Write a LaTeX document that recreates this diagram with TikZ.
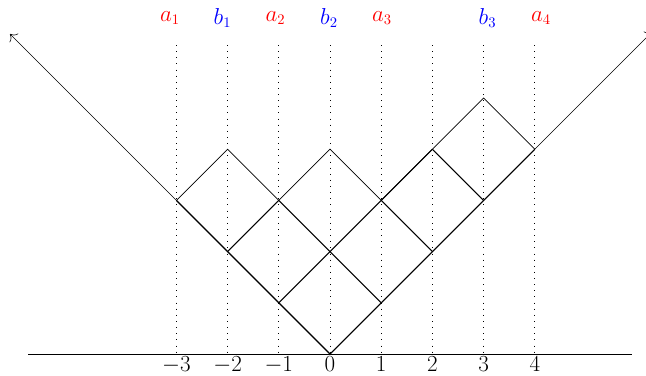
\documentclass[tikz,border=0pt]{standalone}
\usepackage{tikz}
\usetikzlibrary{arrows.meta}

\begin{document}
\begin{tikzpicture}[x=0.75pt,y=0.75pt,yscale=-1,xscale=1]
\useasboundingbox (0,0) rectangle (646,375);
%Straight Lines [axis]
\draw [line width=0.6]  (28,354) -- (632,354) ;
%Straight Lines [dotted guides]
\foreach \xx in {176.4,227.6,278.8,330,381.2,432.4,483.6,534.8}
  \draw [dash pattern={on 0.6pt off 4pt}, line width=0.6]  (\xx,45) -- (\xx,354) ;
%Straight Lines [arms]
\draw [-{To[scale=1.7]}, line width=0.45]  (330,354) -- (10,34) ;
\draw [-{To[scale=1.7]}, line width=0.45]  (330,354) -- (652,32) ;
%Straight Lines [cells, up-right]
\draw [line width=0.8]  (330,354) -- (534.8,149.2) ;
\draw [line width=0.8]  (278.8,302.8) -- (432.4,149.2) ;
\draw [line width=0.8]  (227.6,251.6) -- (278.8,200.4) ;
%Straight Lines [cells, up-left]
\draw [line width=0.8]  (330,354) -- (176.4,200.4) ;
\draw [line width=0.8]  (381.2,302.8) -- (278.8,200.4) ;
\draw [line width=0.8]  (432.4,251.6) -- (381.2,200.4) ;
\draw [line width=0.8]  (483.6,200.4) -- (432.4,149.2) ;
%Shape: Polygon [profile]
\draw [line width=0.5]  (176.4,200.4) -- (227.6,149.2) -- (278.8,200.4) -- (330,149.2) -- (381.2,200.4) -- (432.4,149.2) -- (483.6,98) -- (534.8,149.2) ;

% Text Node
\node (a1) at (170,18) [inner sep=0.75pt, color=red, font=\fontsize{16}{18}\selectfont] {$a_{1}$};
% Text Node
\node (b1) at (222.5,18) [inner sep=0.75pt, color=blue, font=\fontsize{16}{18}\selectfont] {$b_{1}$};
% Text Node
\node (a2) at (275.5,18) [inner sep=0.75pt, color=red, font=\fontsize{16}{18}\selectfont] {$a_{2}$};
% Text Node
\node (b2) at (329,18) [inner sep=0.75pt, color=blue, font=\fontsize{16}{18}\selectfont] {$b_{2}$};
% Text Node
\node (a3) at (382,18) [inner sep=0.75pt, color=red, font=\fontsize{16}{18}\selectfont] {$a_{3}$};
% Text Node
\node (b3) at (487.5,18) [inner sep=0.75pt, color=blue, font=\fontsize{16}{18}\selectfont] {$b_{3}$};
% Text Node
\node (a4) at (541,18) [inner sep=0.75pt, color=red, font=\fontsize{16}{18}\selectfont] {$a_{4}$};

% Text Node
\foreach \xx/\lab in {176.4/-3,227.6/-2,278.8/-1,330/0,381.2/1,432.4/2,483.6/3,534.8/4}
  \node (tick\lab) at (\xx,371.5) [anchor=base, inner sep=0pt, font=\fontsize{16}{18}\selectfont] {$\lab$};
\end{tikzpicture}
\end{document}
